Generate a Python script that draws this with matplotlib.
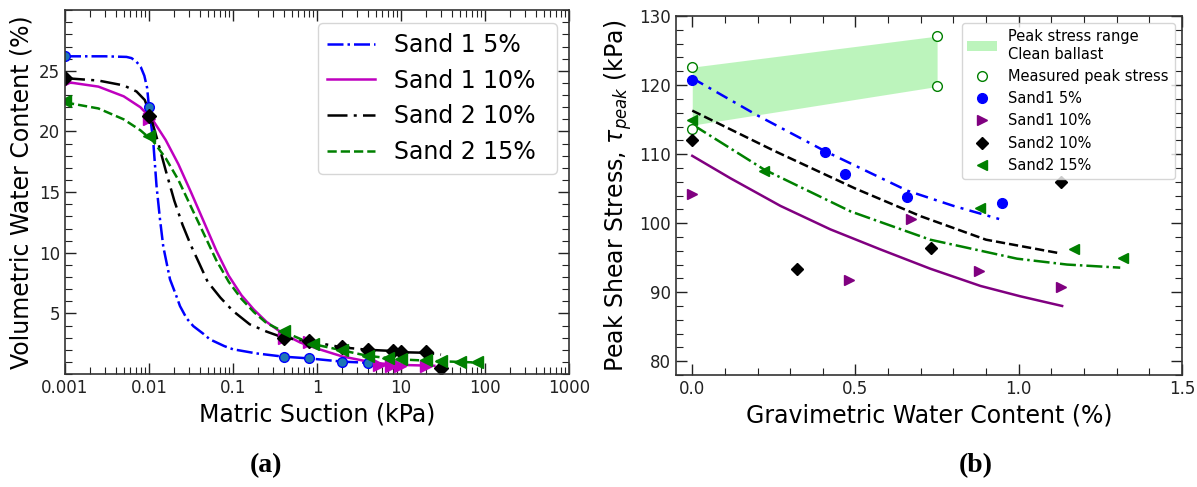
import matplotlib.pyplot as plt
from matplotlib import ticker
from matplotlib.patches import Patch
from matplotlib.lines import Line2D

# ---- (a) soil-water characteristic curves: fitted lines ----
s1_5_fit_x = [0.001, 0.003, 0.0054, 0.0062, 0.0071, 0.008, 0.0088, 0.0095, 0.01, 0.0112,
              0.0123, 0.0135, 0.0148, 0.0178, 0.021, 0.0234, 0.028, 0.0337, 0.0447, 0.053,
              0.079, 0.1, 0.19, 0.4, 0.8, 2, 4]
s1_5_fit_y = [26.2, 26.2, 26.15, 26.05, 25.75, 25.3, 24.6, 23.6, 22.0, 19.3,
              15.5, 12.8, 10.5, 7.8, 6.5, 5.6, 4.6, 3.95, 3.3, 2.86,
              2.3, 2.04, 1.7, 1.43, 1.29, 1.02, 0.93]

s1_10_fit_x = [0.001, 0.0025, 0.005, 0.0079, 0.0112, 0.0158, 0.0224, 0.0316, 0.0447, 0.0631,
               0.0891, 0.126, 0.178, 0.251, 0.398, 0.631, 1.0, 2.0, 5.0, 10, 25]
s1_10_fit_y = [24.1, 23.7, 22.9, 22.0, 20.9, 19.3, 17.3, 15.0, 12.6, 10.2,
               8.1, 6.5, 5.3, 4.3, 3.3, 2.6, 2.1, 1.45, 0.9, 0.75, 0.68]

s2_10_fit_x = [0.001, 0.0025, 0.005, 0.0071, 0.0089, 0.0102, 0.0126, 0.0158, 0.02, 0.0251,
               0.0316, 0.0398, 0.05, 0.0708, 0.1, 0.158, 0.251, 0.398, 0.794, 2.0,
               4.0, 8.0, 10, 20, 30]
s2_10_fit_y = [24.4, 24.2, 23.8, 23.3, 22.6, 21.5, 19.3, 16.8, 14.3, 12.3,
               10.6, 9.1, 7.6, 6.3, 5.2, 4.1, 3.5, 3.0, 2.7, 2.2,
               2.0, 1.9, 1.8, 1.75, 1.6]

s2_15_fit_x = [0.001, 0.0025, 0.005, 0.0079, 0.0112, 0.0158, 0.0224, 0.0316, 0.0447, 0.0631,
               0.0891, 0.126, 0.178, 0.251, 0.398, 0.631, 1.0, 2.0, 4.0, 10, 30, 80]
s2_15_fit_y = [22.4, 21.9, 21.0, 20.1, 19.2, 17.8, 16.0, 13.8, 11.6, 9.4,
               7.6, 6.2, 5.1, 4.2, 3.5, 2.9, 2.4, 1.95, 1.5, 1.2, 1.05, 0.95]

# ---- (a) measured points ----
s1_5_x = [0.001, 0.01, 0.4, 0.8, 2, 4]
s1_5_y = [26.2, 22.0, 1.43, 1.29, 1.02, 0.93]
s1_10_x = [0.001, 0.01, 0.4, 0.8, 5.5, 7.7, 9.7, 20]
s1_10_y = [24.1, 21.0, 3.0, 2.6, 0.75, 0.7, 0.7, 0.65]
s2_10_x = [0.001, 0.01, 0.4, 0.8, 2, 4, 8, 10, 20, 30]
s2_10_y = [24.4, 21.3, 3.0, 2.75, 2.2, 2.0, 1.9, 1.8, 1.8, 0.5]
s2_15_x = [0.001, 0.01, 0.4, 0.9, 2, 4, 7, 10, 20, 30, 50, 80]
s2_15_y = [22.5, 19.6, 3.55, 2.45, 2.0, 1.5, 1.3, 1.2, 1.15, 1.05, 1.0, 0.95]

suction_ticks = [0.001, 0.01, 0.1, 1, 10, 100, 1000]

# ---- (b) peak shear stress vs gravimetric water content ----
band_x = [0.0, 0.75]
band_lo = [114.2, 119.8]
band_hi = [122.6, 127.1]
clean_x = [0.0, 0.0, 0.75, 0.75]
clean_y = [122.6, 113.7, 127.1, 119.8]

b_s1_5_x = [0.0, 0.408, 0.468, 0.659, 0.95]
b_s1_5_y = [120.7, 110.3, 107.1, 103.8, 102.9]
b_s1_10_x = [0.0, 0.479, 0.669, 0.879, 1.13]
b_s1_10_y = [104.2, 91.7, 100.6, 93.1, 90.8]
b_s2_10_x = [0.0, 0.32, 0.73, 1.13]
b_s2_10_y = [112.1, 93.3, 96.4, 105.9]
b_s2_15_x = [0.0, 0.22, 0.88, 1.17, 1.32]
b_s2_15_y = [114.9, 107.5, 102.2, 96.3, 94.9]

fit_s1_5_x = [0.0, 0.2, 0.408, 0.659, 0.8, 0.94]
fit_s1_5_y = [121.0, 115.6, 110.4, 104.7, 102.5, 100.6]
fit_s1_10_x = [0.0, 0.117, 0.27, 0.423, 0.576, 0.729, 0.883, 1.005, 1.133]
fit_s1_10_y = [109.75, 106.5, 102.5, 99.1, 96.2, 93.4, 90.9, 89.4, 88.0]
fit_s2_10_x = [0.0, 0.25, 0.5, 0.7, 0.9, 1.13]
fit_s2_10_y = [116.3, 110.5, 105.0, 101.0, 97.6, 95.6]
fit_s2_15_x = [0.0, 0.219, 0.485, 0.729, 0.995, 1.148, 1.311]
fit_s2_15_y = [114.3, 107.8, 101.7, 97.6, 94.85, 94.0, 93.55]


def style_axes(ax, size):
    ax.tick_params(which="both", direction="in", top=True, right=True,
                   labelsize=size, colors="#222222")
    ax.tick_params(which="major", length=8, width=1)
    ax.tick_params(which="minor", length=5, width=0.8)
    for sp in ax.spines.values():
        sp.set_color("#333333")
        sp.set_linewidth(1.2)


def main():
    fig = plt.figure(figsize=(11.97, 4.87), dpi=100)

    # (a)
    ax = fig.add_axes([0.0543, 0.232, 0.421, 0.747])
    ax.plot(s1_5_fit_x, s1_5_fit_y, "-.", color="b", lw=1.8, label="Sand 1 5%")
    ax.plot(s1_10_fit_x, s1_10_fit_y, "-", color="m", lw=1.8, label="Sand 1 10%")
    ax.plot(s2_10_fit_x, s2_10_fit_y, color="k", lw=1.8, dashes=(8, 2.5, 1.2, 2.5),
            label="Sand 2 10%")
    ax.plot(s2_15_fit_x, s2_15_fit_y, "--", color="g", lw=1.8, label="Sand 2 15%")
    ax.plot(s1_5_x, s1_5_y, "o", ms=7, mfc="tab:blue", mec="b")
    ax.plot(s1_10_x, s1_10_y, ">", ms=8, color="m")
    ax.plot(s2_10_x, s2_10_y, "D", ms=7, color="k")
    ax.plot(s2_15_x, s2_15_y, "<", ms=8, color="g")
    ax.set_xscale("log")
    ax.set_xlim(0.001, 1000)
    ax.set_ylim(0, 30)
    ax.set_xticks(suction_ticks)
    ax.xaxis.set_major_formatter(ticker.FuncFormatter(lambda v, _: f"{v:g}"))
    ax.set_yticks([5, 10, 15, 20, 25])
    ax.yaxis.set_minor_locator(ticker.MultipleLocator(1))
    style_axes(ax, 12)
    ax.set_xlabel("Matric Suction (kPa)", fontsize=17)
    ax.set_ylabel("Volumetric Water Content (%)", fontsize=17)
    ax.legend(loc="upper left", bbox_to_anchor=(0.502, 0.964, 0.474, 0.0),
              mode="expand", borderaxespad=0, fontsize=17)

    # (b)
    bx = fig.add_axes([0.5647, 0.230, 0.4227, 0.737])
    bx.fill_between(band_x, band_lo, band_hi, color="lightgreen", alpha=0.6, lw=0)
    bx.plot(fit_s1_5_x, fit_s1_5_y, color="b", lw=1.8, dashes=(5, 2.5, 1.2, 2.5))
    bx.plot(fit_s1_10_x, fit_s1_10_y, "-", color="purple", lw=1.8)
    bx.plot(fit_s2_10_x, fit_s2_10_y, "--", color="k", lw=1.8)
    bx.plot(fit_s2_15_x, fit_s2_15_y, "-.", color="g", lw=1.8)
    bx.plot(clean_x, clean_y, "o", ms=7, mfc="white", mec="g", ls="none")
    bx.plot(b_s1_5_x, b_s1_5_y, "o", ms=7, color="b", ls="none")
    bx.plot(b_s1_10_x, b_s1_10_y, ">", ms=7, color="purple", ls="none")
    bx.plot(b_s2_10_x, b_s2_10_y, "D", ms=6, color="k", ls="none")
    bx.plot(b_s2_15_x, b_s2_15_y, "<", ms=7, color="g", ls="none")
    bx.set_xlim(-0.05, 1.5)
    bx.set_ylim(78, 130)
    bx.xaxis.set_major_locator(ticker.MultipleLocator(0.5))
    bx.xaxis.set_minor_locator(ticker.MultipleLocator(0.1))
    bx.yaxis.set_major_locator(ticker.MultipleLocator(10))
    bx.yaxis.set_minor_locator(ticker.MultipleLocator(2))
    style_axes(bx, 12)
    bx.set_xlabel("Gravimetric Water Content (%)", fontsize=17)
    bx.set_ylabel(r"Peak Shear Stress, $\tau_{peak}$ (kPa)", fontsize=17)
    handles = [
        Patch(facecolor="lightgreen", alpha=0.6, label="Peak stress range\nClean ballast"),
        Line2D([], [], ls="none", marker="o", ms=7, mfc="white", mec="g",
               label="Measured peak stress"),
        Line2D([], [], ls="none", marker="o", ms=7, color="b", label="Sand1 5%"),
        Line2D([], [], ls="none", marker=">", ms=7, color="purple", label="Sand1 10%"),
        Line2D([], [], ls="none", marker="D", ms=6, color="k", label="Sand2 10%"),
        Line2D([], [], ls="none", marker="<", ms=7, color="g", label="Sand2 15%"),
    ]
    bx.legend(handles=handles, loc="upper right", fontsize=10.5)

    fig.text(0.222, 0.03, "(a)", fontsize=20, fontweight="bold",
             family="Liberation Serif", ha="center")
    fig.text(0.815, 0.03, "(b)", fontsize=20, fontweight="bold",
             family="Liberation Serif", ha="center")

    fig.savefig("out.png", dpi=100)
    plt.close(fig)


if __name__ == "__main__":
    main()
